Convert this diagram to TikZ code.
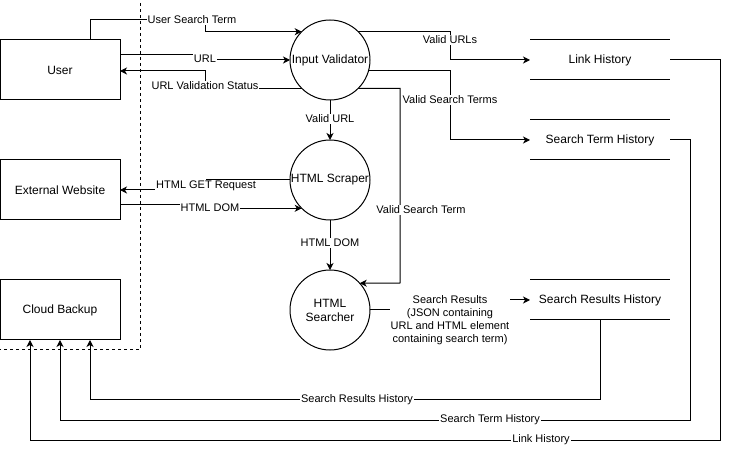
\documentclass[tikz,border=0pt]{standalone}
\usepackage{fontspec}
\setmainfont{Liberation Sans}
\usetikzlibrary{arrows.meta}
\begin{document}
\begin{tikzpicture}[x=1pt,y=-1pt,
  line width=1pt,
  ent/.style={draw, rectangle, minimum width=120pt, minimum height=60pt, inner sep=0pt, outer sep=0pt, font=\fontsize{12}{14}\selectfont},
  proc/.style={draw, circle, minimum size=80pt, inner sep=0pt, outer sep=0pt, align=center, font=\fontsize{12}{14}\selectfont},
  store/.style={rectangle, minimum width=140pt, minimum height=40pt, inner sep=0pt, outer sep=0pt, font=\fontsize{12}{14}\selectfont},
  flow/.style={-{Stealth[length=7pt,width=7pt,inset=2pt]}},
  lbl/.style={fill=white, inner sep=1pt, font=\fontsize{11}{13}\selectfont, align=center}
]
\useasboundingbox (0,0) rectangle (729,449);

% boundary
\draw[dash pattern=on 3pt off 3pt] (140,3) -- (140,350) -- (0,350);

% external entities
\node[ent] (user) at (60,70) {User};
\node[ent] (ext) at (60,190) {External Website};
\node[ent] (cb) at (60,310) {Cloud Backup};

% processes
\node[proc] (iv) at (330,60) {Input Validator};
\node[proc] (hs) at (330,180) {HTML Scraper};
\node[proc] (hsr) at (330,310) {HTML\\Searcher};

% data stores
\node[store] (lh) at (600,60) {Link History};
\node[store] (sth) at (600,140) {Search Term History};
\node[store] (srh) at (600,300) {Search Results History};
\draw (lh.north west) -- (lh.north east) (lh.south west) -- (lh.south east);
\draw (sth.north west) -- (sth.north east) (sth.south west) -- (sth.south east);
\draw (srh.north west) -- (srh.north east) (srh.south west) -- (srh.south east);

% flows
\draw[flow] (user.north -| 90,0) |- (205,20) |- (iv.135);
\node[lbl] (l1) at (192,20) {User Search Term};

\draw[flow] (user.east |- 0,55) -- (205,55) |- (iv.west);
\node[lbl] (l2) at (205,59) {URL};

\draw[flow] (iv.225) -| (205,71) -- (user.east |- 0,71);
\node[lbl] (l3) at (205,86) {URL Validation Status};

\draw[flow] (iv.45) -| (450,60) -- (lh.west);
\node[lbl] (l4) at (450,40) {Valid URLs};

\draw[flow] (iv.-15) -| (450,140) -- (sth.west);
\node[lbl] (l5) at (450,100) {Valid Search Terms};

\draw[flow] (iv.-45) -| (400,283) -- (hsr.42.5);
\node[lbl] (l6) at (421,210) {Valid Search Term};

\draw[flow] (iv.south) -- (hs.north);
\node[lbl] (l7) at (330,119) {Valid URL};

\draw[flow] (hs.west) -- (206,180) |- (ext.east |- 0,190);
\node[lbl] (l8) at (206,186) {HTML GET Request};

\draw[flow] (ext.east |- 0,205) -- (210,205) |- (hs.225);
\node[lbl] (l9) at (210,208) {HTML DOM};

\draw[flow] (hs.south) -- (hsr.north);
\node[lbl] (l10) at (330,243) {HTML DOM};

\draw[flow] (hsr.east) -- (450,310) |- (srh.west);
\node[lbl, font=\fontsize{11}{13}\selectfont] (l11) at (450,320) {Search Results\\(JSON containing\\URL and HTML element\\containing search term)};

\draw[flow] (srh.south) -- (600,399) -| (cb.south -| 90,0);
\node[lbl] (l12) at (357,400) {Search Results History};

\draw[flow] (sth.east) -- (690,140) |- (60,420) -- (cb.south -| 60,0);
\node[lbl] (l13) at (490,420) {Search Term History};

\draw[flow] (lh.east) -- (720,60) |- (30,440) -- (cb.south -| 30,0);
\node[lbl] (l14) at (541,440) {Link History};
\end{tikzpicture}
\end{document}
